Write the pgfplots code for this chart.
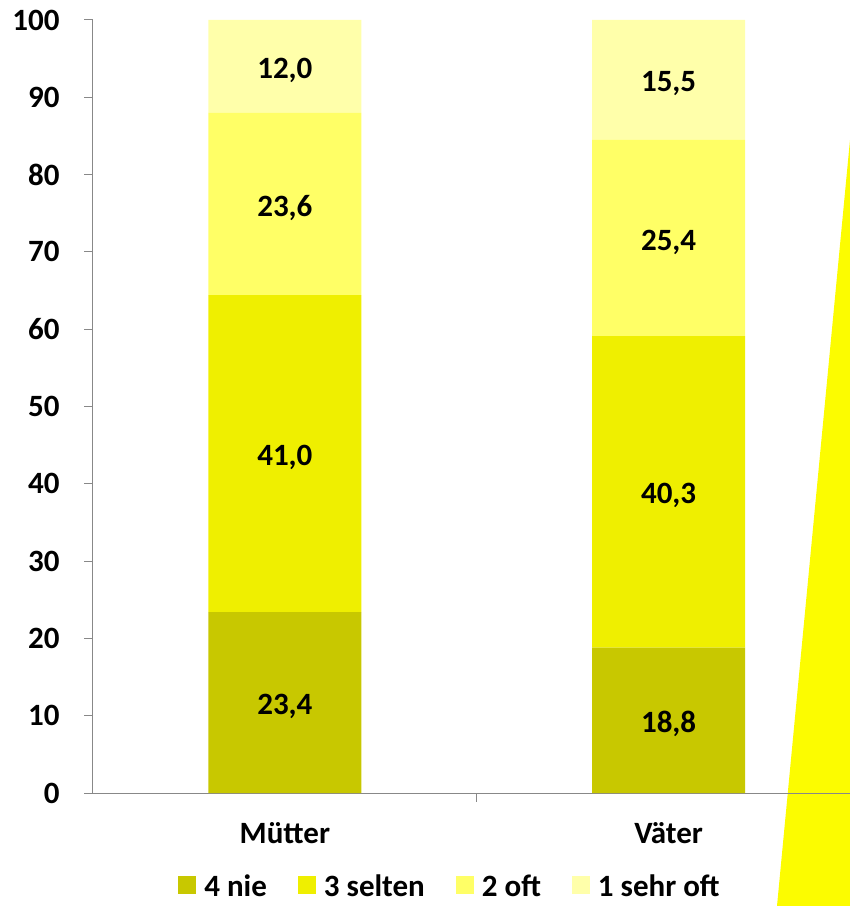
\documentclass[border=0pt]{standalone}
\usepackage{fontspec}
\setmainfont{Carlito}
\usepackage{pgfplots}
\pgfplotsset{compat=1.18}
\definecolor{cnie}{HTML}{C8C800}
\definecolor{cselten}{HTML}{EFEF00}
\definecolor{coft}{HTML}{FFFF66}
\definecolor{csehr}{HTML}{FFFFAA}
\definecolor{axgray}{HTML}{888888}
\definecolor{deco}{HTML}{FCFC00}
\newcommand{\bigfont}{\bfseries\fontsize{31}{37}\selectfont}
\begin{document}
\begin{tikzpicture}[x=1pt,y=1pt]
\path[use as bounding box] (0,0) rectangle (850,906);
\fill[deco] (850,766) -- (777,0) -- (850,0) -- cycle;
\begin{axis}[
  at={(93pt,113pt)}, anchor=south west,
  scale only axis, width=757pt, height=773pt,
  xmin=-0.5, xmax=1.4727, ymin=0, ymax=100,
  ybar stacked, bar width=153pt,
  axis x line=bottom, axis y line=left,
  axis line style={draw=axgray, line width=1pt, -},
  ytick={0,10,...,100}, tick align=outside, major tick length=9pt,
  tick style={axgray, line width=1pt},
  xtick={0.5}, xticklabels={},
  extra x ticks={0,1}, extra x tick labels={Mütter,Väter},
  extra x tick style={major tick length=0pt, xticklabel style={yshift=-26pt}},
  ticklabel style={font=\bigfont},
  yticklabel style={xshift=-21pt},
  /pgf/number format/assume math mode=true,
  point meta=explicit,
  nodes near coords={\pgfmathprintnumber[fixed,fixed zerofill,precision=1,use comma,assume math mode=true]{\pgfplotspointmeta}},
  every node near coord/.append style={font=\bigfont, black, anchor=center, yshift=-4pt},
  legend columns=-1,
  legend style={at={(rel axis cs:0.4703,-0.1210)}, anchor=center, draw=none, fill=none,
    font=\bigfont, nodes={inner sep=0pt},
    /tikz/every odd column/.append style={column sep=8pt},
    /tikz/every even column/.append style={column sep=31pt}},
  legend image code/.code={\fill[#1] (0pt,-7pt) rectangle (18pt,11pt);},
]
\addplot[fill=cnie, draw=none] coordinates {(0,23.4) [23.4] (1,18.8) [18.8]};
\addplot[fill=cselten, draw=none] coordinates {(0,41.0) [41.0] (1,40.3) [40.3]};
\addplot[fill=coft, draw=none] coordinates {(0,23.6) [23.6] (1,25.4) [25.4]};
\addplot[fill=csehr, draw=none] coordinates {(0,12.0) [12.0] (1,15.5) [15.5]};
\legend{4 nie, 3 selten, 2 oft, 1 sehr oft}
\end{axis}
\end{tikzpicture}
\end{document}
